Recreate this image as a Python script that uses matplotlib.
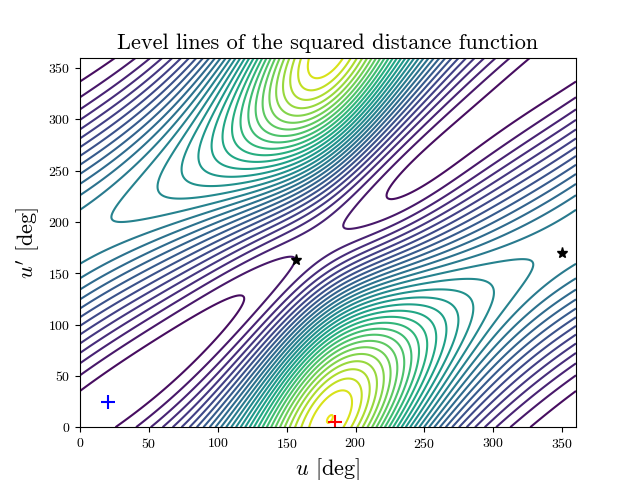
import numpy as np
import matplotlib
matplotlib.use('Agg')
import matplotlib.pyplot as plt

plt.rcParams['font.family'] = 'serif'
plt.rcParams['font.serif'] = ['cmr10']
plt.rcParams['mathtext.fontset'] = 'cm'
plt.rcParams['axes.formatter.use_mathtext'] = True

# orbital elements (a, e, i, Omega, omega), angles in deg
orbit1 = [1.0, 0.4, 0.0, 0.0, 0.0]
orbit2 = [0.8, 0.05, 20.0, 20.0, -25.0]

minima_u = [20, 185]
minima_up = [25, 5]
minima_col = ['blue', 'red']
saddle_u = [157, 350]
saddle_up = [163, 170]


def position(el, f):
    a, e, inc, Om, om = el
    inc, Om, om = np.radians([inc, Om, om])
    r = a * (1 - e**2) / (1 + e * np.cos(f))
    th = om + f
    x = r * (np.cos(Om) * np.cos(th) - np.sin(Om) * np.sin(th) * np.cos(inc))
    y = r * (np.sin(Om) * np.cos(th) + np.cos(Om) * np.sin(th) * np.cos(inc))
    z = r * np.sin(th) * np.sin(inc)
    return x, y, z


u = np.linspace(0, 360, 361)
up = np.linspace(0, 360, 361)
U, UP = np.meshgrid(u, up)
x1, y1, z1 = position(orbit1, np.radians(U))
x2, y2, z2 = position(orbit2, np.radians(UP))
d2 = (x1 - x2)**2 + (y1 - y2)**2 + (z1 - z2)**2

fig, ax = plt.subplots(figsize=(6.4, 4.8), dpi=100)
ax.contour(U, UP, d2, levels=42, cmap='viridis', linewidths=1.5)
for x, y, c in zip(minima_u, minima_up, minima_col):
    ax.plot(x, y, '+', color=c, markersize=10, mew=1.5)
ax.plot(saddle_u, saddle_up, '*', color='black', markersize=8)
ax.set_title('Level lines of the squared distance function', fontsize=16)
ax.set_xlabel(r'$u$ [deg]', fontsize=16)
ax.set_ylabel(r"$u'$ [deg]", fontsize=16)
ax.set_xlim(0, 360)
ax.set_ylim(0, 360)
fig.savefig('out.png')
